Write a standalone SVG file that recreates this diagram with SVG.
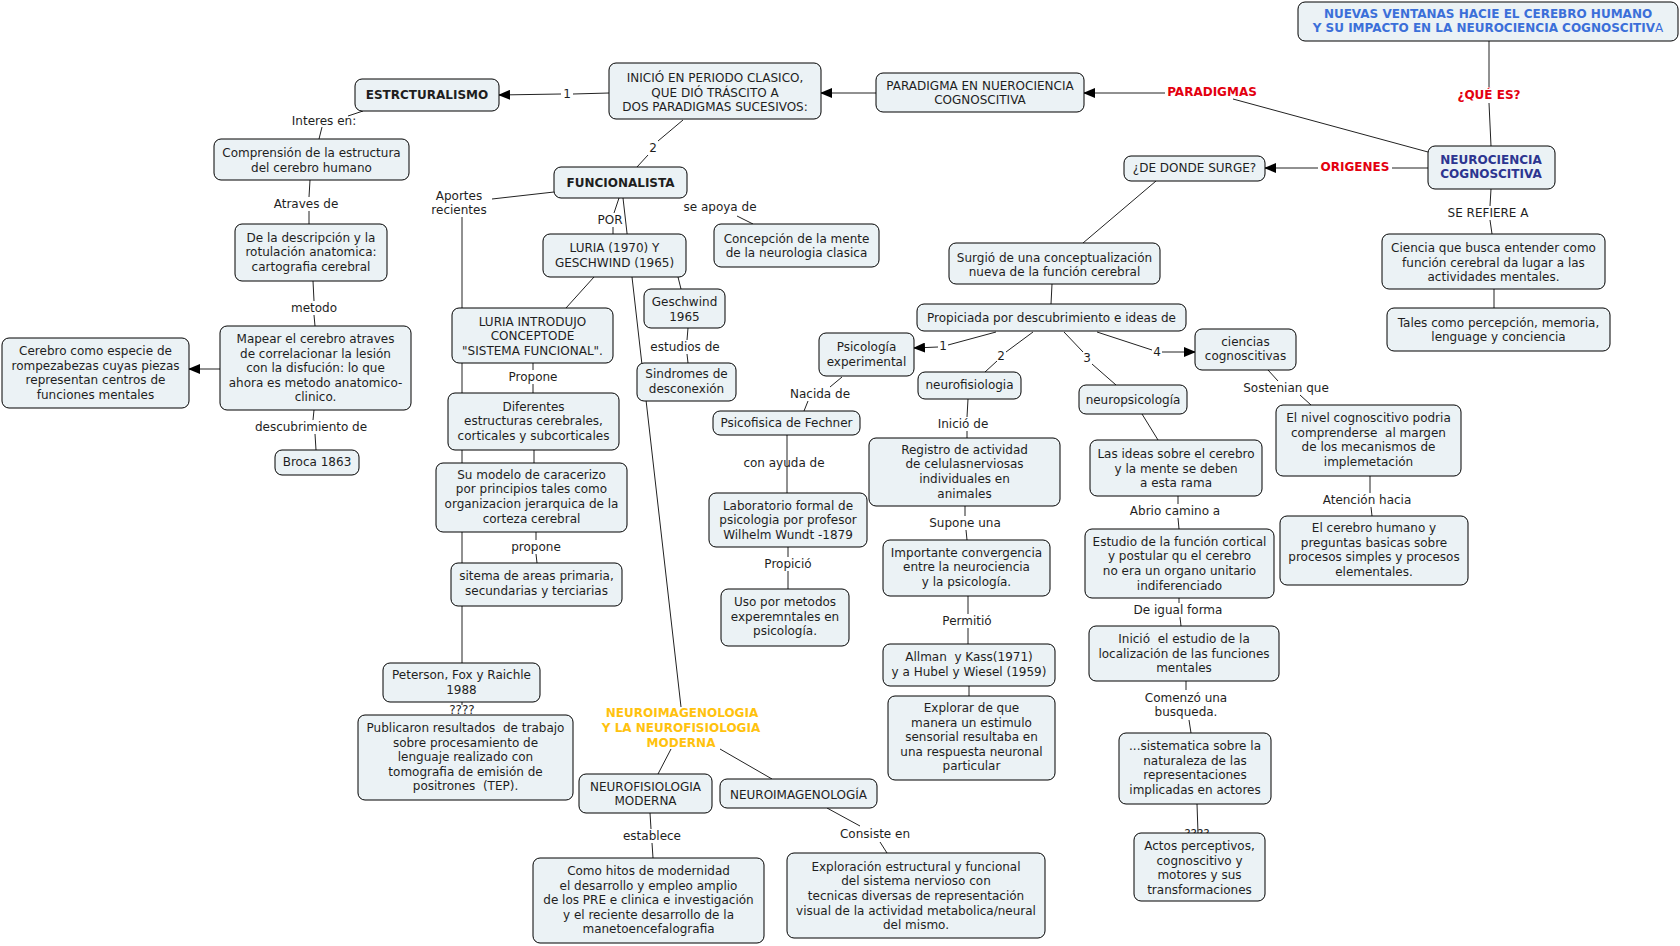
<svg xmlns="http://www.w3.org/2000/svg" width="1680" height="946" viewBox="0 0 1680 946">
<defs>
<marker id="ah" markerWidth="12" markerHeight="10" refX="11" refY="5" orient="auto" markerUnits="userSpaceOnUse"><path d="M0,0 L12,5 L0,10 Z" fill="#000"/></marker>
<style>
text{font-family:"DejaVu Sans",Verdana,sans-serif;font-size:12px;fill:#1e1e1e;text-anchor:middle;white-space:pre}
.n rect{fill:#ebf2f5;stroke:#000;stroke-width:1}
.b{font-weight:bold}
.red{fill:#e3000f;font-weight:bold}
.gold{fill:#ffc20e;font-weight:bold}
.blue{fill:#3b6fd9;font-weight:bold}
.navy{fill:#2c3590;font-weight:bold}
#conn line,#conn polyline{stroke:#222;stroke-width:1;fill:none}
.arr{marker-end:url(#ah)}
</style>
</defs>
<rect width="1680" height="946" fill="#fff"/>
<g id="conn">
<line x1="363" y1="111" x2="348" y2="116"/><line x1="322" y1="127" x2="319" y2="139"/>
<line x1="310" y1="180" x2="309" y2="197"/><line x1="309" y1="211" x2="309" y2="224"/>
<line x1="313" y1="281" x2="314" y2="301"/><line x1="314" y1="315" x2="315" y2="326"/>
<line x1="314" y1="410" x2="313" y2="420"/><line x1="315" y1="434" x2="316" y2="450"/>
<line x1="220" y1="369" x2="189" y2="369" class="arr"/>
<line x1="609" y1="93" x2="573" y2="94"/><line x1="561" y1="94" x2="499" y2="95" class="arr"/>
<line x1="876" y1="93" x2="821" y2="93" class="arr"/>
<line x1="1428" y1="152" x2="1233" y2="99"/><line x1="1165" y1="93" x2="1084" y2="93" class="arr"/>
<line x1="1489" y1="41" x2="1489" y2="87"/><line x1="1489" y1="103" x2="1491" y2="146"/>
<line x1="1428" y1="168" x2="1392" y2="168"/><line x1="1318" y1="168" x2="1265" y2="168" class="arr"/>
<line x1="1491" y1="189" x2="1490" y2="206"/><line x1="1490" y1="220" x2="1492" y2="234"/>
<line x1="1494" y1="289" x2="1494" y2="308"/>
<line x1="1156" y1="181" x2="1083" y2="243"/>
<line x1="1052" y1="284" x2="1051" y2="304"/>
<line x1="996" y1="332" x2="948" y2="345"/><line x1="938" y1="347" x2="914" y2="348" class="arr"/>
<line x1="1033" y1="332" x2="1006" y2="352"/><line x1="997" y1="361" x2="985" y2="372"/>
<line x1="1064" y1="332" x2="1083" y2="352"/><line x1="1092" y1="364" x2="1116" y2="385"/>
<line x1="1097" y1="332" x2="1152" y2="350"/><line x1="1162" y1="352" x2="1195" y2="352" class="arr"/>
<line x1="1268" y1="370" x2="1278" y2="381"/><line x1="1300" y1="395" x2="1311" y2="405"/>
<line x1="1142" y1="414" x2="1158" y2="440"/>
<line x1="1178" y1="496" x2="1178" y2="504"/><line x1="1178" y1="518" x2="1179" y2="529"/>
<line x1="1179" y1="598" x2="1179" y2="603"/><line x1="1180" y1="617" x2="1181" y2="626"/>
<line x1="1186" y1="681" x2="1186" y2="690"/><line x1="1189" y1="720" x2="1191" y2="733"/>
<line x1="1197" y1="804" x2="1198" y2="833"/>
<line x1="1370" y1="476" x2="1370" y2="493"/><line x1="1371" y1="507" x2="1372" y2="516"/>
<line x1="683" y1="120" x2="658" y2="141"/><line x1="648" y1="155" x2="637" y2="167"/>
<line x1="554" y1="192" x2="492" y2="199"/>
<line x1="462" y1="217" x2="462" y2="663"/>
<line x1="619" y1="198" x2="614" y2="213"/><line x1="613" y1="227" x2="613" y2="234"/>
<line x1="737" y1="216" x2="753" y2="224"/>
<line x1="594" y1="277" x2="566" y2="308"/>
<line x1="678" y1="277" x2="681" y2="289"/>
<line x1="688" y1="328" x2="687" y2="340"/><line x1="687" y1="354" x2="688" y2="363"/>
<line x1="623" y1="198" x2="681" y2="707"/>
<line x1="533" y1="363" x2="533" y2="370"/><line x1="533" y1="384" x2="533" y2="393"/>
<line x1="534" y1="450" x2="534" y2="463"/>
<line x1="536" y1="532" x2="536" y2="540"/><line x1="536" y1="554" x2="537" y2="563"/>
<line x1="462" y1="702" x2="462" y2="705"/>
<line x1="671" y1="749" x2="658" y2="774"/>
<line x1="720" y1="749" x2="772" y2="779"/>
<line x1="650" y1="813" x2="651" y2="829"/><line x1="652" y1="843" x2="653" y2="858"/>
<line x1="827" y1="808" x2="860" y2="826"/><line x1="880" y1="842" x2="887" y2="853"/>
<line x1="842" y1="377" x2="830" y2="387"/><line x1="808" y1="401" x2="804" y2="411"/>
<line x1="787" y1="435" x2="787" y2="493"/>
<line x1="788" y1="547" x2="788" y2="557"/><line x1="788" y1="571" x2="788" y2="589"/>
<line x1="968" y1="399" x2="967" y2="417"/><line x1="967" y1="431" x2="967" y2="438"/>
<line x1="965" y1="506" x2="965" y2="516"/><line x1="966" y1="530" x2="967" y2="540"/>
<line x1="968" y1="596" x2="968" y2="614"/><line x1="968" y1="628" x2="968" y2="644"/>
<line x1="969" y1="686" x2="969" y2="696"/>
</g>
<g id="labels">
<text x="324" y="125">Interes en:</text>
<text x="306" y="208">Atraves de</text>
<text x="314" y="312">metodo</text>
<text x="311" y="431">descubrimiento de</text>
<text x="567" y="98">1</text>
<text x="653" y="152">2</text>
<text x="1212" y="96" class="red">PARADIGMAS</text>
<text x="1489" y="99" class="red">¿QUÉ ES?</text>
<text x="1355" y="171" class="red">ORIGENES</text>
<text x="1488" y="217">SE REFIERE A</text>
<text x="459" y="200">Aportes</text><text x="459" y="214">recientes</text>
<text x="610" y="224">POR</text>
<text x="720" y="211">se apoya de</text>
<text x="685" y="351">estudios de</text>
<text x="533" y="381">Propone</text>
<text x="536" y="551">propone</text>
<text x="462" y="714">????</text>
<text class="gold" x="682" y="717">NEUROIMAGENOLOGIA</text>
<text class="gold" x="681" y="732">Y LA NEUROFISIOLOGIA</text>
<text class="gold" x="681" y="747">MODERNA</text>
<text x="652" y="840">establece</text>
<text x="875" y="838">Consiste en</text>
<text x="820" y="398">Nacida de</text>
<text x="784" y="467">con ayuda de</text>
<text x="788" y="568">Propició</text>
<text x="943" y="350">1</text>
<text x="1001" y="360">2</text>
<text x="1087" y="362">3</text>
<text x="1157" y="356">4</text>
<text x="963" y="428">Inició de</text>
<text x="965" y="527">Supone una</text>
<text x="967" y="625">Permitió</text>
<text x="1286" y="392">Sostenian que</text>
<text x="1175" y="515">Abrio camino a</text>
<text x="1178" y="614">De igual forma</text>
<text x="1186" y="702">Comenzó una</text><text x="1186" y="716">busqueda.</text>
<text x="1197" y="838">????</text>
<text x="1367" y="504">Atención hacia</text>
</g>
<g id="title" class="n"><rect x="1298" y="2" width="380" height="39" rx="7"/><text class="blue" x="1488" y="18">NUEVAS VENTANAS HACIE EL CEREBRO HUMANO</text><text class="blue" x="1488" y="32">Y SU IMPACTO EN LA NEUROCIENCIA COGNOSCITIV<tspan style="font-weight:normal">A</tspan></text></g>
<g id="neuro" class="n"><rect x="1428" y="146" width="127" height="43" rx="7"/><text class="navy" x="1491" y="164">NEUROCIENCIA</text><text class="navy" x="1491" y="178">COGNOSCITIVA</text></g>
<g id="paradigma" class="n"><rect x="876" y="73" width="208" height="39" rx="7"/><text x="980" y="90">PARADIGMA EN NUEROCIENCIA</text><text x="980" y="104">COGNOSCITIVA</text></g>
<g id="inicio" class="n"><rect x="609" y="63" width="212" height="56" rx="7"/><text x="715" y="82">INICIÓ EN PERIODO CLASICO,</text><text x="715" y="97">QUE DIÓ TRÁSCITO A</text><text x="715" y="111">DOS PARADIGMAS SUCESIVOS:</text></g>
<g id="estruct" class="n"><rect x="355" y="79" width="144" height="32" rx="7"/><text class="b" x="427" y="99">ESTRCTURALISMO</text></g>
<g id="comprension" class="n"><rect x="214" y="139" width="195" height="41" rx="7"/><text x="311.5" y="157">Comprensión de la estructura</text><text x="311.5" y="172">del cerebro humano</text></g>
<g id="descripcion" class="n"><rect x="235" y="224" width="152" height="57" rx="7"/><text x="311" y="242">De la descripción y la</text><text x="311" y="256">rotulación anatomica:</text><text x="311" y="271">cartografia cerebral</text></g>
<g id="mapear" class="n"><rect x="220" y="326" width="191" height="84" rx="7"/><text x="315.5" y="343">Mapear el cerebro atraves</text><text x="315.5" y="358">de correlacionar la lesión</text><text x="315.5" y="372">con la disfución: lo que</text><text x="315.5" y="387">ahora es metodo anatomico-</text><text x="315.5" y="401">clinico.</text></g>
<g id="cerebro" class="n"><rect x="2" y="338" width="187" height="70" rx="7"/><text x="95.5" y="355">Cerebro como especie de</text><text x="95.5" y="370">rompezabezas cuyas piezas</text><text x="95.5" y="384">representan centros de</text><text x="95.5" y="399">funciones mentales</text></g>
<g id="broca" class="n"><rect x="275" y="450" width="84" height="25" rx="7"/><text x="317" y="466">Broca 1863</text></g>
<g id="funcional" class="n"><rect x="554" y="167" width="133" height="31" rx="7"/><text class="b" x="620.5" y="187">FUNCIONALISTA</text></g>
<g id="luria" class="n"><rect x="543" y="234" width="143" height="43" rx="7"/><text x="614.5" y="252">LURIA (1970) Y</text><text x="614.5" y="267">GESCHWIND (1965)</text></g>
<g id="concepcion" class="n"><rect x="714" y="224" width="165" height="43" rx="7"/><text x="796.5" y="243">Concepción de la mente</text><text x="796.5" y="257">de la neurologia clasica</text></g>
<g id="geschwind" class="n"><rect x="644" y="289" width="81" height="39" rx="7"/><text x="684.5" y="306">Geschwind</text><text x="684.5" y="321">1965</text></g>
<g id="sindromes" class="n"><rect x="637" y="363" width="99" height="38" rx="7"/><text x="686.5" y="378">Sindromes de</text><text x="686.5" y="393">desconexión</text></g>
<g id="luriaintro" class="n"><rect x="452" y="308" width="161" height="55" rx="7"/><text x="532.5" y="326">LURIA INTRODUJO</text><text x="532.5" y="340">CONCEPTODE</text><text x="532.5" y="355">"SISTEMA FUNCIONAL".</text></g>
<g id="diferentes" class="n"><rect x="448" y="393" width="171" height="57" rx="7"/><text x="533.5" y="411">Diferentes</text><text x="533.5" y="425">estructuras cerebrales,</text><text x="533.5" y="440">corticales y subcorticales</text></g>
<g id="sumodelo" class="n"><rect x="436" y="463" width="191" height="69" rx="7"/><text x="531.5" y="479">Su modelo de caracerizo</text><text x="531.5" y="493">por principios tales como</text><text x="531.5" y="508">organizacion jerarquica de la</text><text x="531.5" y="523">corteza cerebral</text></g>
<g id="sitema" class="n"><rect x="451" y="563" width="171" height="43" rx="7"/><text x="536.5" y="580">sitema de areas primaria,</text><text x="536.5" y="595">secundarias y terciarias</text></g>
<g id="peterson" class="n"><rect x="383" y="663" width="157" height="39" rx="7"/><text x="461.5" y="679">Peterson, Fox y Raichle</text><text x="461.5" y="694">1988</text></g>
<g id="publicaron" class="n"><rect x="358" y="715" width="215" height="85" rx="7"/><text x="465.5" y="732">Publicaron resultados  de trabajo</text><text x="465.5" y="747">sobre procesamiento de</text><text x="465.5" y="761">lenguaje realizado con</text><text x="465.5" y="776">tomografia de emisión de</text><text x="465.5" y="790">positrones  (TEP).</text></g>
<g id="neurofisiomoderna" class="n"><rect x="579" y="774" width="133" height="39" rx="7"/><text x="645.5" y="791">NEUROFISIOLOGIA</text><text x="645.5" y="805">MODERNA</text></g>
<g id="neuroimagen" class="n"><rect x="720" y="779" width="157" height="29" rx="7"/><text x="798.5" y="799">NEUROIMAGENOLOGÍA</text></g>
<g id="como" class="n"><rect x="533" y="858" width="231" height="85" rx="7"/><text x="648.5" y="875">Como hitos de modernidad</text><text x="648.5" y="890">el desarrollo y empleo amplio</text><text x="648.5" y="904">de los PRE e clinica e investigación</text><text x="648.5" y="919">y el reciente desarrollo de la</text><text x="648.5" y="933">manetoencefalografia</text></g>
<g id="exploracion" class="n"><rect x="787" y="853" width="258" height="85" rx="7"/><text x="916" y="871">Exploración estructural y funcional</text><text x="916" y="885">del sistema nervioso con</text><text x="916" y="900">tecnicas diversas de representación</text><text x="916" y="915">visual de la actividad metabolica/neural</text><text x="916" y="929">del mismo.</text></g>
<g id="psicologia" class="n"><rect x="819" y="333" width="95" height="43" rx="7"/><text x="866.5" y="351">Psicología</text><text x="866.5" y="366">experimental</text></g>
<g id="fechner" class="n"><rect x="713" y="411" width="147" height="24" rx="7"/><text x="786.5" y="427">Psicofisica de Fechner</text></g>
<g id="laboratorio" class="n"><rect x="709" y="493" width="158" height="54" rx="7"/><text x="788" y="510">Laboratorio formal de</text><text x="788" y="524">psicologia por profesor</text><text x="788" y="539">Wilhelm Wundt -1879</text></g>
<g id="uso" class="n"><rect x="721" y="589" width="128" height="57" rx="7"/><text x="785" y="606">Uso por metodos</text><text x="785" y="621">experemntales en</text><text x="785" y="635">psicología.</text></g>
<g id="neurofisiologia" class="n"><rect x="918" y="372" width="103" height="27" rx="7"/><text x="969.5" y="389">neurofisiologia</text></g>
<g id="registro" class="n"><rect x="869" y="438" width="191" height="68" rx="7"/><text x="964.5" y="454">Registro de actividad</text><text x="964.5" y="468">de celulasnerviosas</text><text x="964.5" y="483">individuales en</text><text x="964.5" y="498">animales</text></g>
<g id="importante" class="n"><rect x="883" y="540" width="167" height="56" rx="7"/><text x="966.5" y="557">Importante convergencia</text><text x="966.5" y="571">entre la neurociencia</text><text x="966.5" y="586">y la psicología.</text></g>
<g id="allman" class="n"><rect x="883" y="644" width="172" height="42" rx="7"/><text x="969" y="661">Allman  y Kass(1971)</text><text x="969" y="676">y a Hubel y Wiesel (1959)</text></g>
<g id="explorar" class="n"><rect x="888" y="696" width="167" height="84" rx="7"/><text x="971.5" y="712">Explorar de que</text><text x="971.5" y="727">manera un estimulo</text><text x="971.5" y="741">sensorial resultaba en</text><text x="971.5" y="756">una respuesta neuronal</text><text x="971.5" y="770">particular</text></g>
<g id="dedonde" class="n"><rect x="1124" y="156" width="141" height="25" rx="7"/><text x="1194.5" y="172">¿DE DONDE SURGE?</text></g>
<g id="surgio" class="n"><rect x="949" y="243" width="211" height="41" rx="7"/><text x="1054.5" y="262">Surgió de una conceptualización</text><text x="1054.5" y="276">nueva de la función cerebral</text></g>
<g id="propiciada" class="n"><rect x="917" y="304" width="269" height="27" rx="7"/><text x="1051.5" y="322">Propiciada por descubrimiento e ideas de</text></g>
<g id="ciencias" class="n"><rect x="1195" y="329" width="101" height="41" rx="7"/><text x="1245.5" y="346">ciencias</text><text x="1245.5" y="360">cognoscitivas</text></g>
<g id="neuropsico" class="n"><rect x="1079" y="385" width="108" height="29" rx="7"/><text x="1133" y="404">neuropsicología</text></g>
<g id="lasideas" class="n"><rect x="1090" y="440" width="172" height="56" rx="7"/><text x="1176" y="458">Las ideas sobre el cerebro</text><text x="1176" y="473">y la mente se deben</text><text x="1176" y="487">a esta rama</text></g>
<g id="estudio" class="n"><rect x="1085" y="529" width="189" height="69" rx="7"/><text x="1179.5" y="546">Estudio de la función cortical</text><text x="1179.5" y="560">y postular qu el cerebro</text><text x="1179.5" y="575">no era un organo unitario</text><text x="1179.5" y="590">indiferenciado</text></g>
<g id="inicio2" class="n"><rect x="1089" y="626" width="190" height="55" rx="7"/><text x="1184" y="643">Inició  el estudio de la</text><text x="1184" y="658">localización de las funciones</text><text x="1184" y="672">mentales</text></g>
<g id="sistematica" class="n"><rect x="1119" y="733" width="152" height="71" rx="7"/><text x="1195" y="750">...sistematica sobre la</text><text x="1195" y="765">naturaleza de las</text><text x="1195" y="779">representaciones</text><text x="1195" y="794">implicadas en actores</text></g>
<g id="actos" class="n"><rect x="1134" y="833" width="131" height="68" rx="7"/><text x="1199.5" y="850">Actos perceptivos,</text><text x="1199.5" y="865">cognoscitivo y</text><text x="1199.5" y="879">motores y sus</text><text x="1199.5" y="894">transformaciones</text></g>
<g id="elnivel" class="n"><rect x="1276" y="405" width="185" height="71" rx="7"/><text x="1368.5" y="422">El nivel cognoscitivo podria</text><text x="1368.5" y="437">comprenderse  al margen</text><text x="1368.5" y="451">de los mecanismos de</text><text x="1368.5" y="466">implemetación</text></g>
<g id="elcerebro" class="n"><rect x="1280" y="516" width="188" height="69" rx="7"/><text x="1374" y="532">El cerebro humano y</text><text x="1374" y="547">preguntas basicas sobre</text><text x="1374" y="561">procesos simples y procesos</text><text x="1374" y="576">elementales.</text></g>
<g id="ciencia" class="n"><rect x="1382" y="234" width="223" height="55" rx="7"/><text x="1493.5" y="252">Ciencia que busca entender como</text><text x="1493.5" y="267">función cerebral da lugar a las</text><text x="1493.5" y="281">actividades mentales.</text></g>
<g id="tales" class="n"><rect x="1387" y="308" width="223" height="43" rx="7"/><text x="1498.5" y="327">Tales como percepción, memoria,</text><text x="1498.5" y="341">lenguage y conciencia</text></g>
</svg>
